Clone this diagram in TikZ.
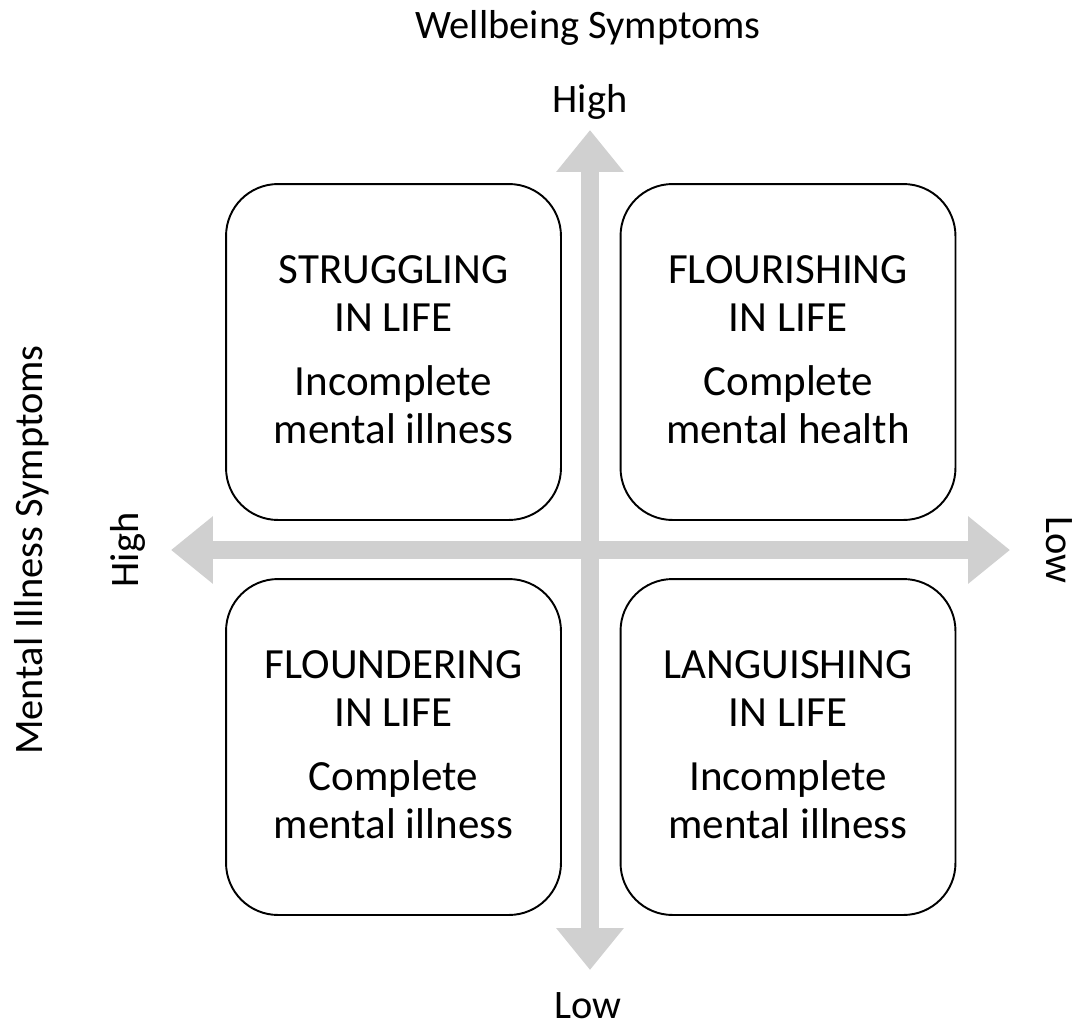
\documentclass[tikz,border=0pt]{standalone}
\usepackage{fontspec}
\setmainfont{Carlito}
\usetikzlibrary{arrows.meta}

\definecolor{axisgray}{RGB}{208,208,208}

\begin{document}
\begin{tikzpicture}[x=0.02cm, y=-0.02cm,
  axis/.style={line width=0.35cm, axisgray,
    {Triangle[length=0.84cm,width=1.3cm]}-{Triangle[length=0.84cm,width=1.3cm]}},
  quad/.style={draw, line width=1.1pt, rounded corners=1.04cm,
    minimum width=6.7cm, minimum height=6.72cm, align=center,
    font=\fontsize{24.5}{27.3}\selectfont},
  axlabel/.style={anchor=base, inner sep=0pt, font=\fontsize{23}{27}\selectfont}]

\useasboundingbox (0,0) rectangle (1075,1025);

% End points of the two axes
\coordinate (up) at (590,130);
\coordinate (down) at (590,970);
\coordinate (left) at (171,550);
\coordinate (right) at (1010,550);

% Axes
\draw[axis] (left) -- (right);
\draw[axis] (down) -- (up);

% Quadrant boxes (text sits a little above centre)
\begin{scope}[every node/.append style={text depth=3pt}]
\node[quad] (struggling) at (393.5,352) {STRUGGLING\\IN LIFE\\[9.5pt]Incomplete\\mental illness};
\node[quad] (flourishing) at (788,352) {FLOURISHING\\IN LIFE\\[9.5pt]Complete\\mental health};
\node[quad] (floundering) at (393.5,747) {FLOUNDERING\\IN LIFE\\[9.5pt]Complete\\mental illness};
\node[quad] (languishing) at (788,747) {LANGUISHING\\IN LIFE\\[9.5pt]Incomplete\\mental illness};
\end{scope}

% Vertical axis labels
\node[axlabel] (wellbeing) at (588,38) {Wellbeing Symptoms};
\node[axlabel] (wbhigh) at (590,112) {High};
\node[axlabel] (wblow) at (588,1018) {Low};

% Horizontal axis labels
\node[axlabel, rotate=90] (illness) at (42,550) {Mental Illness Symptoms};
\node[axlabel, rotate=90] (illhigh) at (138,550) {High};
\node[axlabel, rotate=-90] (illlow) at (1046,550) {Low};

\end{tikzpicture}
\end{document}
